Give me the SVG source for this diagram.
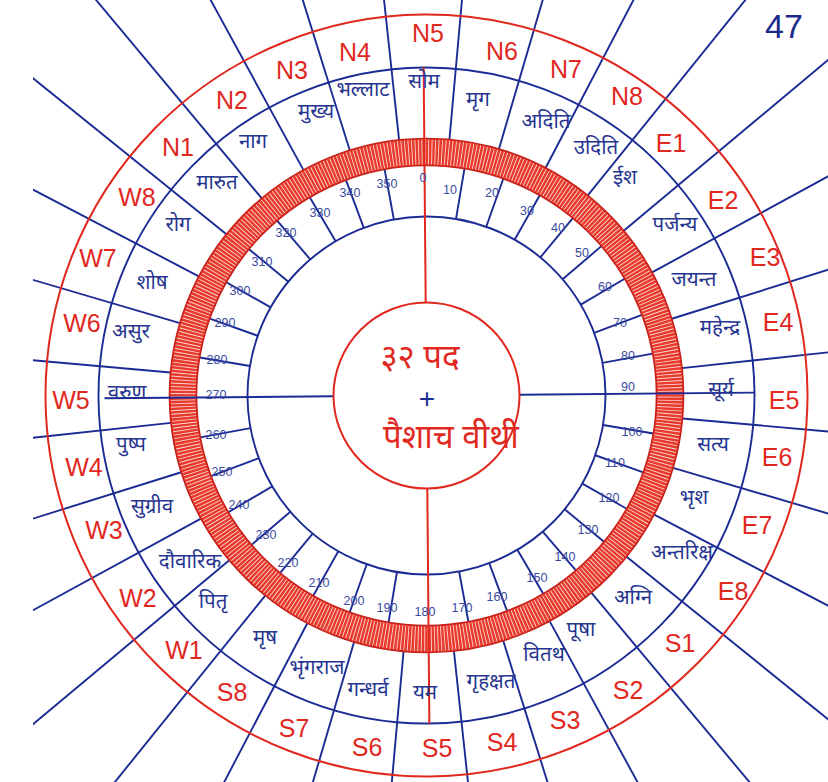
<svg xmlns="http://www.w3.org/2000/svg" width="828" height="782" viewBox="0 0 828 782">
<style>
.bl{stroke:#1c2b94;stroke-width:1.9;fill:none}
.rd{stroke:#e0281f;stroke-width:2;fill:none}
.ol{font-family:"Liberation Sans",Arial,sans-serif;font-size:25px;fill:#e0281f;text-anchor:middle}
.dl{font-family:"Noto Sans Devanagari","Noto Sans","Lohit Devanagari",sans-serif;font-size:20.5px;fill:#263590;text-anchor:middle}
.dg{font-family:"Liberation Sans",Arial,sans-serif;font-size:12.5px;fill:#3a4aa0;text-anchor:middle}
.ct{font-family:"Noto Sans Devanagari","Noto Sans","Lohit Devanagari",sans-serif;font-size:33px;fill:#e0281f;text-anchor:middle}
</style>
<defs>
<clipPath id="pg"><rect x="33" y="0" width="795" height="782"/></clipPath>
<line id="pl" x1="426.5" y1="138.5" x2="426.5" y2="-404.5"/>
<line id="tk" x1="426.5" y1="216.5" x2="426.5" y2="165.5"/>
</defs>
<rect width="828" height="782" fill="#ffffff"/>
<g id="connectors">
<g clip-path="url(#pg)">
<g class="bl" transform="rotate(-0.5 426.5 395.5)">
<use href="#pl" transform="rotate(5.625 426.5 395.5)"/>
<use href="#pl" transform="rotate(16.875 426.5 395.5)"/>
<use href="#pl" transform="rotate(28.125 426.5 395.5)"/>
<use href="#pl" transform="rotate(39.375 426.5 395.5)"/>
<use href="#pl" transform="rotate(50.625 426.5 395.5)"/>
<use href="#pl" transform="rotate(61.875 426.5 395.5)"/>
<use href="#pl" transform="rotate(73.125 426.5 395.5)"/>
<use href="#pl" transform="rotate(84.375 426.5 395.5)"/>
<use href="#pl" transform="rotate(95.625 426.5 395.5)"/>
<use href="#pl" transform="rotate(106.875 426.5 395.5)"/>
<use href="#pl" transform="rotate(118.125 426.5 395.5)"/>
<use href="#pl" transform="rotate(129.375 426.5 395.5)"/>
<use href="#pl" transform="rotate(140.625 426.5 395.5)"/>
<use href="#pl" transform="rotate(151.875 426.5 395.5)"/>
<use href="#pl" transform="rotate(163.125 426.5 395.5)"/>
<use href="#pl" transform="rotate(174.375 426.5 395.5)"/>
<use href="#pl" transform="rotate(185.625 426.5 395.5)"/>
<use href="#pl" transform="rotate(196.875 426.5 395.5)"/>
<use href="#pl" transform="rotate(208.125 426.5 395.5)"/>
<use href="#pl" transform="rotate(219.375 426.5 395.5)"/>
<use href="#pl" transform="rotate(230.625 426.5 395.5)"/>
<use href="#pl" transform="rotate(241.875 426.5 395.5)"/>
<use href="#pl" transform="rotate(253.125 426.5 395.5)"/>
<use href="#pl" transform="rotate(264.375 426.5 395.5)"/>
<use href="#pl" transform="rotate(275.625 426.5 395.5)"/>
<use href="#pl" transform="rotate(286.875 426.5 395.5)"/>
<use href="#pl" transform="rotate(298.125 426.5 395.5)"/>
<use href="#pl" transform="rotate(309.375 426.5 395.5)"/>
<use href="#pl" transform="rotate(320.625 426.5 395.5)"/>
<use href="#pl" transform="rotate(331.875 426.5 395.5)"/>
<use href="#pl" transform="rotate(343.125 426.5 395.5)"/>
<use href="#pl" transform="rotate(354.375 426.5 395.5)"/>
</g>
</g>
<g transform="rotate(-0.5 426.5 395.5)">
<circle class="rd" cx="426.5" cy="395.5" r="381"/>
<circle class="bl" cx="426.5" cy="395.5" r="328"/>
<circle class="bl" cx="426.5" cy="395.5" r="179"/>
<g class="bl">
<use href="#tk" transform="rotate(10 426.5 395.5)"/>
<use href="#tk" transform="rotate(20 426.5 395.5)"/>
<use href="#tk" transform="rotate(30 426.5 395.5)"/>
<use href="#tk" transform="rotate(40 426.5 395.5)"/>
<use href="#tk" transform="rotate(50 426.5 395.5)"/>
<use href="#tk" transform="rotate(60 426.5 395.5)"/>
<use href="#tk" transform="rotate(70 426.5 395.5)"/>
<use href="#tk" transform="rotate(80 426.5 395.5)"/>
<use href="#tk" transform="rotate(100 426.5 395.5)"/>
<use href="#tk" transform="rotate(110 426.5 395.5)"/>
<use href="#tk" transform="rotate(120 426.5 395.5)"/>
<use href="#tk" transform="rotate(130 426.5 395.5)"/>
<use href="#tk" transform="rotate(140 426.5 395.5)"/>
<use href="#tk" transform="rotate(150 426.5 395.5)"/>
<use href="#tk" transform="rotate(160 426.5 395.5)"/>
<use href="#tk" transform="rotate(170 426.5 395.5)"/>
<use href="#tk" transform="rotate(190 426.5 395.5)"/>
<use href="#tk" transform="rotate(200 426.5 395.5)"/>
<use href="#tk" transform="rotate(210 426.5 395.5)"/>
<use href="#tk" transform="rotate(220 426.5 395.5)"/>
<use href="#tk" transform="rotate(230 426.5 395.5)"/>
<use href="#tk" transform="rotate(240 426.5 395.5)"/>
<use href="#tk" transform="rotate(250 426.5 395.5)"/>
<use href="#tk" transform="rotate(260 426.5 395.5)"/>
<use href="#tk" transform="rotate(280 426.5 395.5)"/>
<use href="#tk" transform="rotate(290 426.5 395.5)"/>
<use href="#tk" transform="rotate(300 426.5 395.5)"/>
<use href="#tk" transform="rotate(310 426.5 395.5)"/>
<use href="#tk" transform="rotate(320 426.5 395.5)"/>
<use href="#tk" transform="rotate(330 426.5 395.5)"/>
<use href="#tk" transform="rotate(340 426.5 395.5)"/>
<use href="#tk" transform="rotate(350 426.5 395.5)"/>
</g>
<g id="ring">
<circle cx="426.5" cy="395.5" r="243.5" fill="none" stroke="#e8392b" stroke-width="27"/>
<circle cx="426.5" cy="395.5" r="243.5" fill="none" stroke="#ffffff" stroke-opacity="0.8" stroke-width="25" stroke-dasharray="0.9 2.426"/>
<circle cx="426.5" cy="395.5" r="230" fill="none" stroke="#c8201a" stroke-width="1.6"/>
<circle cx="426.5" cy="395.5" r="257" fill="none" stroke="#c8201a" stroke-width="1.6"/>
</g>
<line class="rd" x1="426.5" y1="302.5" x2="426.5" y2="67.5"/>
<line class="rd" x1="426.5" y1="488.5" x2="426.5" y2="723.5"/>
<line class="bl" x1="519.5" y1="395.5" x2="754.5" y2="395.5"/>
<line class="bl" x1="333.5" y1="395.5" x2="104.5" y2="395.5"/>
</g>
</g>
<g id="center">
<circle class="rd" cx="426.5" cy="395.5" r="93"/>
<text class="ct" x="420" y="368">३२ पद</text>
<text x="427" y="408" font-family="Liberation Sans,Arial,sans-serif" font-size="28" fill="#1c2b94" text-anchor="middle">+</text>
<text class="ct" x="451" y="448">पैशाच वीथी</text>
</g>
<g id="outer-labels">
<text class="ol" x="428" y="42">N5</text>
<text class="ol" x="502" y="60">N6</text>
<text class="ol" x="566" y="78">N7</text>
<text class="ol" x="627" y="105">N8</text>
<text class="ol" x="671" y="152">E1</text>
<text class="ol" x="723" y="209">E2</text>
<text class="ol" x="765" y="266">E3</text>
<text class="ol" x="778" y="331">E4</text>
<text class="ol" x="784" y="409">E5</text>
<text class="ol" x="777" y="466">E6</text>
<text class="ol" x="757" y="534">E7</text>
<text class="ol" x="733" y="600">E8</text>
<text class="ol" x="680" y="652">S1</text>
<text class="ol" x="628" y="699">S2</text>
<text class="ol" x="565" y="729">S3</text>
<text class="ol" x="502" y="751">S4</text>
<text class="ol" x="437" y="757">S5</text>
<text class="ol" x="367" y="756">S6</text>
<text class="ol" x="294" y="737">S7</text>
<text class="ol" x="232" y="701">S8</text>
<text class="ol" x="184" y="659">W1</text>
<text class="ol" x="138" y="607">W2</text>
<text class="ol" x="104" y="539">W3</text>
<text class="ol" x="84" y="476">W4</text>
<text class="ol" x="71" y="409">W5</text>
<text class="ol" x="82" y="332">W6</text>
<text class="ol" x="98" y="267">W7</text>
<text class="ol" x="137" y="206">W8</text>
<text class="ol" x="178" y="156">N1</text>
<text class="ol" x="232" y="109">N2</text>
<text class="ol" x="292" y="79">N3</text>
<text class="ol" x="355" y="61">N4</text>
</g>
<g id="deity-labels">
<text class="dl" x="424" y="88">सोम</text>
<text class="dl" x="478" y="106">मृग</text>
<text class="dl" x="546" y="128">अदिति</text>
<text class="dl" x="596" y="154">उदिति</text>
<text class="dl" x="625" y="184">ईश</text>
<text class="dl" x="675" y="231">पर्जन्य</text>
<text class="dl" x="694" y="286">जयन्त</text>
<text class="dl" x="720" y="334">महेन्द्र</text>
<text class="dl" x="721" y="396">सूर्य</text>
<text class="dl" x="713" y="451">सत्य</text>
<text class="dl" x="694" y="504">भृश</text>
<text class="dl" x="682" y="559">अन्तरिक्ष</text>
<text class="dl" x="633" y="604">अग्नि</text>
<text class="dl" x="581" y="636">पूषा</text>
<text class="dl" x="544" y="661">वितथ</text>
<text class="dl" x="491" y="688">गृहक्षत</text>
<text class="dl" x="425" y="699">यम</text>
<text class="dl" x="368" y="696">गन्धर्व</text>
<text class="dl" x="317" y="674">भृंगराज</text>
<text class="dl" x="265" y="644">मृष</text>
<text class="dl" x="213" y="608">पितृ</text>
<text class="dl" x="190" y="568">दौवारिक</text>
<text class="dl" x="152" y="513">सुग्रीव</text>
<text class="dl" x="131" y="451">पुष्प</text>
<text class="dl" x="127" y="399">वरुण</text>
<text class="dl" x="131" y="338">असुर</text>
<text class="dl" x="152" y="289">शोष</text>
<text class="dl" x="178" y="231">रोग</text>
<text class="dl" x="217" y="189">मारुत</text>
<text class="dl" x="253" y="148">नाग</text>
<text class="dl" x="316" y="118">मुख्य</text>
<text class="dl" x="363" y="96">भल्लाट</text>
</g>
<g id="degree-labels">
<text class="dg" x="423" y="182">0</text>
<text class="dg" x="450" y="194">10</text>
<text class="dg" x="492" y="197">20</text>
<text class="dg" x="527" y="215">30</text>
<text class="dg" x="558" y="232">40</text>
<text class="dg" x="582" y="257">50</text>
<text class="dg" x="605" y="291">60</text>
<text class="dg" x="620" y="327">70</text>
<text class="dg" x="628" y="360">80</text>
<text class="dg" x="628" y="391">90</text>
<text class="dg" x="632" y="436">100</text>
<text class="dg" x="615" y="467">110</text>
<text class="dg" x="609" y="502">120</text>
<text class="dg" x="588" y="534">130</text>
<text class="dg" x="565" y="561">140</text>
<text class="dg" x="537" y="582">150</text>
<text class="dg" x="497" y="601">160</text>
<text class="dg" x="462" y="612">170</text>
<text class="dg" x="425" y="616">180</text>
<text class="dg" x="387" y="612">190</text>
<text class="dg" x="354" y="605">200</text>
<text class="dg" x="319" y="587">210</text>
<text class="dg" x="288" y="567">220</text>
<text class="dg" x="266" y="539">230</text>
<text class="dg" x="239" y="509">240</text>
<text class="dg" x="222" y="476">250</text>
<text class="dg" x="216" y="439">260</text>
<text class="dg" x="216" y="399">270</text>
<text class="dg" x="217" y="364">280</text>
<text class="dg" x="225" y="327">290</text>
<text class="dg" x="240" y="295">300</text>
<text class="dg" x="262" y="266">310</text>
<text class="dg" x="286" y="237">320</text>
<text class="dg" x="320" y="217">330</text>
<text class="dg" x="350" y="197">340</text>
<text class="dg" x="387" y="188">350</text>
</g>
<text id="page-number" x="784" y="38" font-family="Liberation Sans,Arial,sans-serif" font-size="34" fill="#1a2a8a" text-anchor="middle">47</text>
</svg>
